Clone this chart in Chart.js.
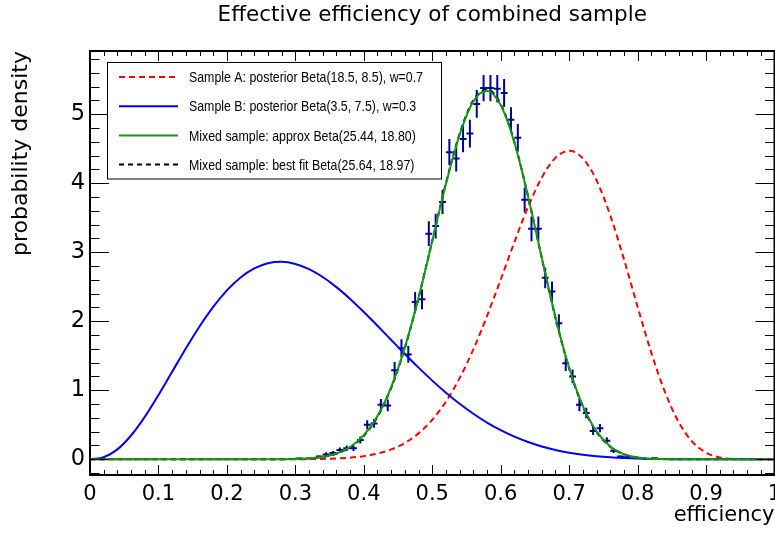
<!DOCTYPE html>
<html>
<head>
<meta charset="utf-8">
<title>Effective efficiency of combined sample</title>
<script src="https://cdn.jsdelivr.net/npm/chart.js@4.4.1/dist/chart.umd.min.js"></script>
<style>
    html, body { margin: 0; padding: 0; background: #fff; }
    canvas { display: block; }
</style>
</head>
<body>
<canvas id="effChart" width="775" height="536"></canvas>
<script>
const chartTitle = 'Effective efficiency of combined sample';

// x positions where the curves are sampled
const xGrid = [0, 0.02, 0.04, 0.06, 0.08, 0.10, 0.12, 0.14, 0.16, 0.18,
               0.20, 0.22, 0.24, 0.26, 0.28, 0.30, 0.32, 0.34, 0.36, 0.38,
               0.40, 0.42, 0.44, 0.46, 0.48, 0.50, 0.52, 0.54, 0.56, 0.58,
               0.60, 0.62, 0.64, 0.66, 0.68, 0.70, 0.72, 0.74, 0.76, 0.78,
               0.80, 0.82, 0.84, 0.86, 0.88, 0.90, 0.92, 0.94, 0.96, 0.98, 1.00];

// Sample A posterior (red dashed)
const sampleA = [0, 0, 0, 0, 0, 0, 0, 0, 0, 0,
                 0, 0, 0, 0, 0.0003, 0.0009, 0.0023, 0.0054, 0.0116, 0.0235,
                 0.0452, 0.0823, 0.1428, 0.2366, 0.3754, 0.5715, 0.8358, 1.1757, 1.5919, 2.0755,
                 2.6051, 3.1475, 3.6575, 4.0820, 4.3682, 4.4700, 4.3628, 4.0422, 3.5363, 2.9011,
                 2.2108, 1.5453, 0.9739, 0.5400, 0.2541, 0.0959, 0.0264, 0.0045, 0.0003, 0, 0];

// Sample B posterior (blue)
const sampleB = [0, 0.0289, 0.1432, 0.3442, 0.6143, 0.9303, 1.2681, 1.6055, 1.9239, 2.2081,
                 2.4474, 2.6347, 2.7661, 2.8412, 2.8616, 2.8313, 2.7557, 2.6411, 2.4945, 2.3231,
                 2.1340, 1.9340, 1.7294, 1.5258, 1.3279, 1.1397, 0.9641, 0.8035, 0.6591, 0.5318,
                 0.4215, 0.3278, 0.2497, 0.1860, 0.1351, 0.0955, 0.0655, 0.0433, 0.0275, 0.0167,
                 0.0096, 0.0051, 0.0025, 0.0011, 0.0004, 0.0001, 0, 0, 0, 0, 0];

// Mixed sample, approximate beta (green)
const mixedApprox = [0, 0, 0, 0, 0, 0, 0, 0, 0, 0,
                     0, 0, 0, 0, 0.0015, 0.0048, 0.0138, 0.0357, 0.0835, 0.1778,
                     0.3476, 0.6265, 1.0457, 1.6220, 2.3445, 3.1634, 3.9891, 4.7038, 5.1862, 5.3418,
                     5.1328, 4.5905, 3.8096, 2.9218, 2.0599, 1.3262, 0.7732, 0.4038, 0.1864, 0.0748,
                     0.0254, 0.0071, 0.0016, 0.0003, 0, 0, 0, 0, 0, 0, 0];

// Mixed sample, best fit beta (black dashed, sits under the green curve)
const mixedFit = [0, 0, 0, 0, 0, 0, 0, 0, 0, 0,
                  0, 0, 0, 0, 0.0013, 0.0044, 0.0128, 0.0336, 0.0797, 0.1715,
                  0.3386, 0.6153, 1.0341, 1.6135, 2.3418, 3.1680, 4.0004, 4.7182, 5.2028, 5.3598,
                  5.1475, 4.5985, 3.8094, 2.9144, 2.0489, 1.3149, 0.7640, 0.3975, 0.1826, 0.0728,
                  0.0245, 0.0068, 0.0015, 0.0003, 0, 0, 0, 0, 0, 0, 0];

// mixed sample histogram (non-empty bins only)
const binWidth = 0.01;
const binCenters = [0.305, 0.335, 0.345, 0.355, 0.365, 0.375, 0.385, 0.395, 0.405, 0.415,
                    0.425, 0.435, 0.445, 0.455, 0.465, 0.475, 0.485, 0.495, 0.505, 0.515,
                    0.525, 0.535, 0.545, 0.555, 0.565, 0.575, 0.585, 0.595, 0.605, 0.615,
                    0.625, 0.635, 0.645, 0.655, 0.665, 0.675, 0.685, 0.695, 0.705, 0.715,
                    0.725, 0.735, 0.745, 0.755, 0.765, 0.775, 0.785, 0.825];
const binValues = [0.01, 0.04, 0.07, 0.09, 0.135, 0.16, 0.16, 0.28, 0.50, 0.52,
                   0.79, 0.78, 1.29, 1.61, 1.52, 2.28, 2.32, 3.27, 3.38, 3.73,
                   4.45, 4.36, 4.64, 4.72, 5.15, 5.38, 5.38, 5.37, 5.31, 4.92,
                   4.66, 3.76, 3.34, 3.34, 2.63, 2.43, 1.97, 1.39, 1.20, 0.79,
                   0.67, 0.41, 0.45, 0.27, 0.125, 0.04, 0.03, 0.015];
const binErrors = [0.01, 0.02, 0.03, 0.03, 0.035, 0.04, 0.04, 0.05, 0.065, 0.065,
                   0.085, 0.085, 0.12, 0.13, 0.12, 0.145, 0.145, 0.18, 0.18, 0.175,
                   0.19, 0.19, 0.19, 0.2, 0.2, 0.19, 0.19, 0.2, 0.2, 0.18,
                   0.2, 0.18, 0.18, 0.18, 0.15, 0.145, 0.13, 0.11, 0.10, 0.095,
                   0.075, 0.06, 0.06, 0.05, 0.035, 0.02, 0.02, 0.01];

const legendLabels = ['Sample A: posterior Beta(18.5, 8.5), w=0.7',
                      'Sample B: posterior Beta(3.5, 7.5), w=0.3',
                      'Mixed sample: approx Beta(25.44, 18.80)',
                      'Mixed sample: best fit Beta(25.64, 18.97)'];

const xTickValues = [0, 0.1, 0.2, 0.3, 0.4, 0.5, 0.6, 0.7, 0.8, 0.9, 1];
const xTickLabels = ['0', '0.1', '0.2', '0.3', '0.4', '0.5', '0.6', '0.7', '0.8', '0.9', '1'];
const yTickValues = [0, 1, 2, 3, 4, 5];
const yTickLabels = ['0', '1', '2', '3', '4', '5'];

const histColor = '#000099';

document.addEventListener('DOMContentLoaded', function() {
    Chart.defaults.color = '#000';
    Chart.defaults.font.family = '"DejaVu Sans", sans-serif';

    const toPoints = (xs, ys) => xs.map((x, i) => ({x: x, y: ys[i]}));

    // histogram crosses, drawn under the curves
    const crossesPlugin = {
        id: 'crosses',
        beforeDatasetsDraw(chart) {
            const ctx = chart.ctx, xs = chart.scales.x, ys = chart.scales.y, a = chart.chartArea;
            ctx.save();
            ctx.beginPath();
            ctx.rect(a.left, a.top, a.right - a.left, a.bottom - a.top);
            ctx.clip();
            ctx.strokeStyle = histColor;
            ctx.lineWidth = 2;
            binCenters.forEach((c, i) => {
                const v = binValues[i], e = binErrors[i];
                const px = xs.getPixelForValue(c), py = ys.getPixelForValue(v);
                ctx.beginPath();
                ctx.moveTo(xs.getPixelForValue(c - binWidth / 2), py);
                ctx.lineTo(xs.getPixelForValue(c + binWidth / 2), py);
                ctx.moveTo(px, ys.getPixelForValue(v - e));
                ctx.lineTo(px, ys.getPixelForValue(v + e));
                ctx.stroke();
            });
            ctx.restore();
        }
    };

    // frame with ticks on all four sides
    const framePlugin = {
        id: 'frame',
        afterDatasetsDraw(chart) {
            const ctx = chart.ctx, xs = chart.scales.x, ys = chart.scales.y, a = chart.chartArea;
            ctx.save();
            ctx.strokeStyle = '#000';
            ctx.lineWidth = 1;
            ctx.beginPath();
            for (let k = 0; k <= 50; k++) {
                const px = Math.round(xs.getPixelForValue(k * 0.02)) + 0.5;
                const len = k % 5 === 0 ? 10 : 5;
                ctx.moveTo(px, a.bottom);
                ctx.lineTo(px, a.bottom - len);
                ctx.moveTo(px, a.top);
                ctx.lineTo(px, a.top + len);
            }
            for (let k = -1; k <= 29; k++) {
                const py = Math.round(ys.getPixelForValue(k * 0.2)) + 0.5;
                const len = k % 5 === 0 ? 19 : 9.5;
                ctx.moveTo(a.left, py);
                ctx.lineTo(a.left + len, py);
                ctx.moveTo(a.right, py);
                ctx.lineTo(a.right - len, py);
            }
            ctx.stroke();
            ctx.lineWidth = 2;
            ctx.strokeRect(a.left, a.top, a.right - a.left, a.bottom - a.top);
            ctx.restore();
        }
    };

    // boxed legend in the upper left corner
    const legendPlugin = {
        id: 'boxLegend',
        afterDatasetsDraw(chart) {
            const ctx = chart.ctx;
            ctx.save();
            ctx.fillStyle = '#fff';
            ctx.fillRect(107.5, 62.5, 334, 116.5);
            ctx.strokeStyle = '#000';
            ctx.lineWidth = 1;
            ctx.strokeRect(107.5, 62.5, 334, 116.5);

            // narrow sans text: squeeze Liberation Sans to the width of the original
            ctx.font = '15px "Liberation Sans", Arial, sans-serif';
            const squeeze = Math.min(1, 234 / ctx.measureText(legendLabels[0]).width);
            ctx.textBaseline = 'middle';
            ctx.textAlign = 'left';
            chart.data.datasets.forEach((ds, i) => {
                const y = 77 + i * 29.2;
                ctx.strokeStyle = ds.borderColor;
                ctx.lineWidth = 2;
                ctx.setLineDash(ds.borderDash || []);
                ctx.beginPath();
                ctx.moveTo(119, y);
                ctx.lineTo(178, y);
                ctx.stroke();
                ctx.setLineDash([]);
                ctx.fillStyle = '#000';
                ctx.save();
                ctx.translate(189, y + 1);
                ctx.scale(squeeze, 1);
                ctx.fillText(ds.label, 0, 0);
                ctx.restore();
            });
            ctx.restore();
        }
    };

    const curve = {showLine: true, pointRadius: 0, borderWidth: 2, fill: false, cubicInterpolationMode: 'monotone'};

    new Chart(document.getElementById('effChart').getContext('2d'), {
        type: 'scatter',
        data: {
            datasets: [
                Object.assign({label: legendLabels[0], data: toPoints(xGrid, sampleA), borderColor: '#ff0000', borderDash: [6, 4], order: 3}, curve),
                Object.assign({label: legendLabels[1], data: toPoints(xGrid, sampleB), borderColor: '#0000ff', order: 2}, curve),
                Object.assign({label: legendLabels[2], data: toPoints(xGrid, mixedApprox), borderColor: '#119911', order: 0}, curve),
                Object.assign({label: legendLabels[3], data: toPoints(xGrid, mixedFit), borderColor: '#000000', borderDash: [5, 4], order: 1}, curve)
            ]
        },
        options: {
            responsive: false,
            devicePixelRatio: 1,
            animation: false,
            events: [],
            layout: {padding: {top: 0, right: 0.5, bottom: 0, left: 0}},
            plugins: {
                legend: {display: false},
                tooltip: {enabled: false},
                title: {
                    display: true,
                    text: chartTitle,
                    fullSize: false,
                    color: '#000',
                    font: {size: 21.5, weight: 'normal'},
                    padding: {top: 3, bottom: 22.2}
                }
            },
            scales: {
                x: {
                    type: 'linear',
                    position: 'bottom',
                    min: 0,
                    max: 1,
                    grid: {display: false, drawTicks: false},
                    border: {display: false},
                    ticks: {
                        font: {size: 21},
                        padding: 6.6,
                        autoSkip: false,
                        maxRotation: 0,
                        callback: (v, i) => xTickLabels[i]
                    },
                    title: {
                        display: true,
                        text: 'efficiency',
                        align: 'end',
                        font: {size: 21},
                        padding: {top: 0, bottom: 8}
                    },
                    afterBuildTicks: s => { s.ticks = xTickValues.map(v => ({value: v})); },
                    afterFit: s => { s.height = 61; s.paddingLeft = 0; s.paddingRight = 0; }
                },
                y: {
                    type: 'linear',
                    position: 'left',
                    min: -0.228,
                    max: 5.917,
                    grid: {display: false, drawTicks: false},
                    border: {display: false},
                    ticks: {
                        font: {size: 22.5},
                        padding: 5,
                        callback: (v, i) => yTickLabels[i]
                    },
                    title: {
                        display: true,
                        text: 'probability density',
                        align: 'end',
                        font: {size: 22},
                        padding: {top: 8, bottom: 0}
                    },
                    afterBuildTicks: s => { s.ticks = yTickValues.map(v => ({value: v})); },
                    afterFit: s => { s.width = 90; s.paddingTop = 0; s.paddingBottom = 0; }
                }
            }
        },
        plugins: [crossesPlugin, framePlugin, legendPlugin]
    });
});
</script>
</body>
</html>
